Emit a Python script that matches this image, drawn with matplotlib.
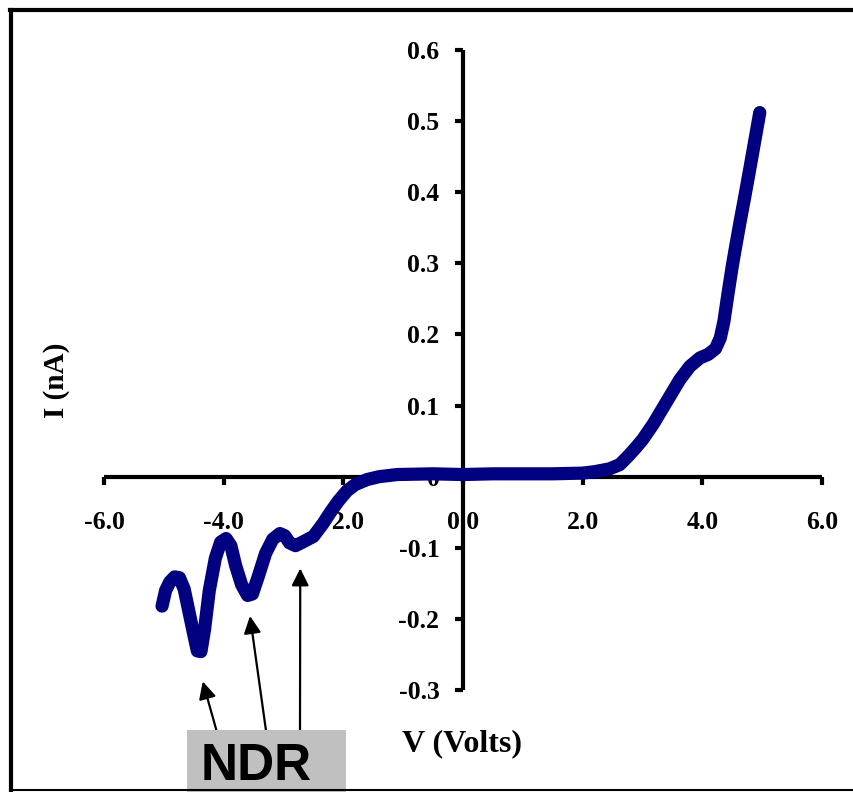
import matplotlib
matplotlib.use('Agg')
import matplotlib.pyplot as plt
from matplotlib.lines import Line2D
from matplotlib.patches import Rectangle

# I-V curve: V in volts, I in nA
V = [-5.03, -4.97, -4.90, -4.82, -4.74, -4.66, -4.58, -4.50, -4.44, -4.38,
     -4.32, -4.24, -4.14, -4.05, -3.96, -3.88, -3.80, -3.70, -3.60, -3.52,
     -3.42, -3.30, -3.18, -3.06, -2.98, -2.90, -2.80, -2.68, -2.50, -2.34,
     -2.20, -2.08, -1.94, -1.80, -1.60, -1.40, -1.10, -0.50, 0.00, 0.50,
     1.00, 1.50, 2.00, 2.20, 2.45, 2.62, 2.75, 2.88, 3.00, 3.18,
     3.40, 3.62, 3.79, 3.96, 4.10, 4.22, 4.30, 4.36, 4.43, 4.50,
     4.56, 4.63, 4.71, 4.80, 4.88, 4.96]
I = [-0.182, -0.160, -0.148, -0.141, -0.142, -0.158, -0.190, -0.222, -0.245, -0.246,
     -0.215, -0.160, -0.115, -0.092, -0.087, -0.097, -0.125, -0.152, -0.167, -0.165,
     -0.140, -0.108, -0.088, -0.080, -0.083, -0.093, -0.097, -0.092, -0.084, -0.066,
     -0.048, -0.034, -0.020, -0.011, -0.004, 0.000, 0.003, 0.004, 0.003, 0.004,
     0.004, 0.004, 0.005, 0.007, 0.011, 0.017, 0.028, 0.040, 0.052, 0.074,
     0.105, 0.136, 0.155, 0.167, 0.172, 0.180, 0.195, 0.218, 0.258, 0.296,
     0.325, 0.358, 0.394, 0.436, 0.474, 0.512]

XTICKS = [-6, -4, -2, 0, 2, 4, 6]
XLABELS = ['-6.0', '-4.0', '-2.0', '0.0', '2.0', '4.0', '6.0']
YTICKS = [0.6, 0.5, 0.4, 0.3, 0.2, 0.1, 0.0, -0.1, -0.2, -0.3]
YLABELS = ['0.6', '0.5', '0.4', '0.3', '0.2', '0.1', '0', '-0.1', '-0.2', '-0.3']

# arrow tips (data coords) pointing at the NDR dips
NDR_V = [-4.35, -3.56, -2.72]
NDR_I = [-0.288, -0.196, -0.129]
# arrow tails in figure pixels (from the top)
NDR_TAIL = [(220, 743), (268, 745), (300, 730)]

W, H = 854, 792
fig = plt.figure(figsize=(W / 100, H / 100), dpi=100)
ax = fig.add_axes([104 / W, 1 - 690 / H, 718 / W, 640 / H])

ax.plot(V, I, color='#000080', lw=9.5, solid_capstyle='round',
        solid_joinstyle='round', zorder=3)

ax.set_xlim(-6, 6)
ax.set_ylim(-0.3, 0.6)
for s in ('top', 'right'):
    ax.spines[s].set_visible(False)
ax.spines['left'].set_position(('data', 0))
ax.spines['bottom'].set_position(('data', 0))
for s in ('left', 'bottom'):
    ax.spines[s].set_linewidth(3)
    ax.spines[s].set_capstyle('butt')

serif = {'family': 'Liberation Serif', 'weight': 'bold', 'size': 18.5}
ax.set_xticks(XTICKS)
ax.set_xticklabels(XLABELS, fontdict=serif)
ax.set_yticks(YTICKS)
ax.set_yticklabels(YLABELS, fontdict=serif)
ax.tick_params(axis='x', direction='out', length=6, width=3, pad=19)
ax.tick_params(axis='y', direction='out', length=6, width=3, pad=11)

fig.text(57 / W, 1 - 380 / H, 'I (nA)', rotation=90, ha='center', va='center',
         family='Liberation Serif', weight='bold', size=21)
fig.text(462 / W, 1 - 744 / H, 'V (Volts)', ha='center', va='center',
         family='Liberation Serif', weight='bold', size=23)

# NDR label box
fig.patches.append(Rectangle((187 / W, 0), (346 - 187) / W, 1 - 730 / H,
                             transform=fig.transFigure, facecolor='#c0c0c0',
                             edgecolor='none', zorder=1))
fig.text(256 / W, 1 - 767 / H, 'NDR', ha='center', va='center',
         family='Liberation Sans', weight='bold', size=37, zorder=2)

for v, i, (tx, ty) in zip(NDR_V, NDR_I, NDR_TAIL):
    ax.annotate('', xy=(v, i), xycoords='data',
                xytext=(tx / W, 1 - ty / H), textcoords='figure fraction',
                arrowprops=dict(arrowstyle='-|>', color='black', lw=1.6,
                                mutation_scale=26, shrinkA=0, shrinkB=0),
                annotation_clip=False)

# outer frame (left, top, bottom)
fig.add_artist(Line2D([11.5 / W, 11.5 / W], [1 - 10 / H, 0], color='black', lw=3))
fig.add_artist(Line2D([10 / W, 1], [1 - 10 / H, 1 - 10 / H], color='black', lw=3))
fig.add_artist(Line2D([10 / W, 1], [1 - 790 / H, 1 - 790 / H], color='black', lw=1.5))

fig.savefig('out.png', dpi=100)
